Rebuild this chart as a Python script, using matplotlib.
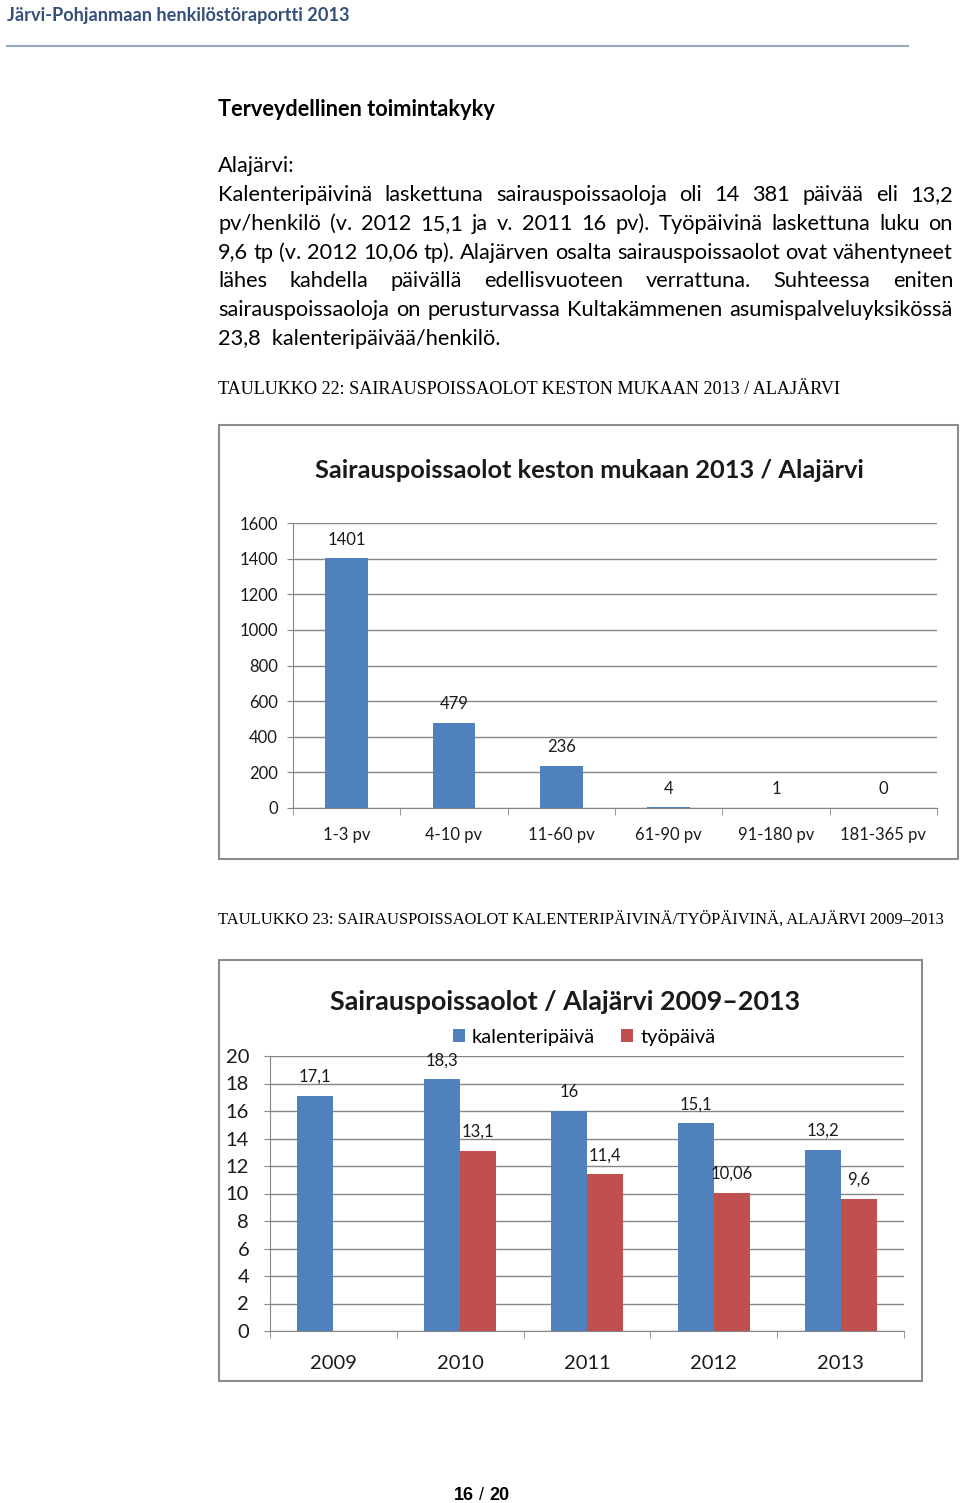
import matplotlib
matplotlib.use('Agg')
import matplotlib.pyplot as plt
from matplotlib.patches import Rectangle
import numpy as np

# chart data
durations = ['1-3 pv', '4-10 pv', '11-60 pv', '61-90 pv', '91-180 pv', '181-365 pv']
duration_counts = [1401, 479, 236, 4, 1, 0]

years = ['2009', '2010', '2011', '2012', '2013']
calendar_days = [17.1, 18.3, 16.0, 15.1, 13.2]
work_days = [np.nan, 13.1, 11.4, 10.06, 9.6]

# page text
header = 'Järvi-Pohjanmaan henkilöstöraportti 2013'
heading = 'Terveydellinen toimintakyky'
body_lines = [
    ('Alajärvi:', False),
    ('Kalenteripäivinä laskettuna sairauspoissaoloja oli 14 381 päivää eli 13,2', True),
    ('pv/henkilö (v. 2012 15,1 ja v. 2011 16 pv). Työpäivinä laskettuna luku on', True),
    ('9,6 tp (v. 2012 10,06 tp). Alajärven osalta sairauspoissaolot ovat vähentyneet', True),
    ('lähes kahdella päivällä edellisvuoteen verrattuna. Suhteessa eniten', True),
    ('sairauspoissaoloja on perusturvassa Kultakämmenen asumispalveluyksikössä', True),
    ('23,8  kalenteripäivää/henkilö.', False),
]
caption1 = 'TAULUKKO 22: SAIRAUSPOISSAOLOT KESTON MUKAAN 2013 / ALAJÄRVI'
caption2 = 'TAULUKKO 23: SAIRAUSPOISSAOLOT KALENTERIPÄIVINÄ/TYÖPÄIVINÄ, ALAJÄRVI 2009\u20132013'
title1 = 'Sairauspoissaolot keston mukaan 2013 / Alajärvi'
title2 = 'Sairauspoissaolot / Alajärvi 2009\u20132013'

BLUE = '#4f81bd'
RED = '#c0504d'
GRID = '#868686'
TXT = '#1a1a1a'
SANS = 'Lato'
SERIF = 'Liberation Serif'

W, H = 960, 1503
fig = plt.figure(figsize=(W / 100, H / 100), dpi=100)
bg = fig.add_axes([0, 0, 1, 1])
bg.set_xlim(0, W)
bg.set_ylim(H, 0)
bg.axis('off')
renderer = fig.canvas.get_renderer()


def px_axes(left, top, right, bottom):
    return fig.add_axes([left / W, 1 - bottom / H, (right - left) / W, (bottom - top) / H])


def width_of(t):
    return t.get_window_extent(renderer).width


def fit(t, target):
    t.set_fontsize(t.get_fontsize() * target / width_of(t))
    return t


def fmt(v):
    return f'{v:g}'.replace('.', ',')


# header
fit(bg.text(7, 15, header, fontsize=13, weight='bold', color='#34507a',
            family=SANS, va='center'), 342)
bg.plot([7, 908], [46, 46], color='#95a8bf', lw=1.5)

fit(bg.text(218, 109, heading, fontsize=15, weight='bold', color='black',
            family=SANS, va='center'), 278)

# body text, justified between 218 and 953
probe = fit(bg.text(0, 0, body_lines[-1][0], fontsize=15, family=SANS), 283)
body_size = probe.get_fontsize()
probe.remove()
left, right = 218, 953
base = 172.5
for i, (line, justify) in enumerate(body_lines):
    y = base + i * 28.67
    if not justify:
        bg.text(left, y, line, fontsize=body_size, family=SANS, va='baseline', color='black')
        continue
    words = line.split(' ')
    texts = [bg.text(0, y, w, fontsize=body_size, family=SANS, va='baseline', color='black')
             for w in words]
    widths = [width_of(t) for t in texts]
    gap = (right - left - sum(widths)) / (len(words) - 1)
    x = left
    for t, w in zip(texts, widths):
        t.set_x(x)
        x += w + gap

# captions
fit(bg.text(218, 390, caption1, fontsize=12, family=SERIF, va='center', color='black'), 619)
fit(bg.text(218, 919, caption2, fontsize=12, family=SERIF, va='center', color='black'), 725)

# chart 1 frame and title
bg.add_patch(Rectangle((219, 425), 739, 434, fill=False, ec='#8c8c8c', lw=1.5))
fit(bg.text(589, 470, title1, fontsize=18, weight='bold', family=SANS,
            ha='center', va='center', color=TXT), 550)

ax1 = px_axes(293, 523, 937, 808)
x1 = np.arange(len(durations))
ax1.bar(x1, duration_counts, width=0.4, color=BLUE, zorder=3)
ax1.set_xlim(-0.5, len(durations) - 0.5)
ax1.set_ylim(0, 1600)
ax1.set_yticks(range(0, 1601, 200))
ax1.yaxis.grid(True, color=GRID, lw=1)
ax1.set_axisbelow(True)
for s in ['top', 'right']:
    ax1.spines[s].set_visible(False)
for s in ['left', 'bottom']:
    ax1.spines[s].set_color(GRID)
ax1.set_xticks(x1)
ax1.set_xticklabels(durations, family=SANS, fontsize=12, color=TXT)
ax1.set_xticks(np.arange(-0.5, len(durations), 1), minor=True)
ax1.tick_params(axis='x', which='major', length=0, pad=13.5)
ax1.tick_params(axis='x', which='minor', length=5, color=GRID)
ax1.tick_params(axis='y', length=4, color=GRID, pad=7, labelsize=12, labelcolor=TXT)
for lab in ax1.get_yticklabels():
    lab.set_family(SANS)
for xi, v in zip(x1, duration_counts):
    ax1.annotate(str(v), (xi, v), xytext=(0, 13.5), textcoords='offset points',
                 ha='center', va='center', fontsize=12, family=SANS, color=TXT)

# chart 2 frame and title
bg.add_patch(Rectangle((219, 960), 703, 421, fill=False, ec='#8c8c8c', lw=1.5))
fit(bg.text(565, 1002, title2, fontsize=19, weight='bold', family=SANS,
            ha='center', va='center', color=TXT), 471)

ax2 = px_axes(270, 1056, 904, 1331)
x2 = np.arange(len(years))
bw = 0.284
cal = np.array(calendar_days)
work = np.array(work_days)
ok = np.isfinite(work)
b1 = ax2.bar(x2 - bw / 2, cal, bw, color=BLUE, zorder=3, label='kalenteripäivä')
b2 = ax2.bar(x2[ok] + bw / 2, work[ok], bw, color=RED, zorder=3, label='työpäivä')
ax2.set_xlim(-0.5, len(years) - 0.5)
ax2.set_ylim(0, 20)
ax2.set_yticks(range(0, 21, 2))
ax2.yaxis.grid(True, color=GRID, lw=1)
ax2.set_axisbelow(True)
for s in ['top', 'right']:
    ax2.spines[s].set_visible(False)
for s in ['left', 'bottom']:
    ax2.spines[s].set_color(GRID)
ax2.set_xticks(x2)
ax2.set_xticklabels(years, family=SANS, fontsize=14.5, color=TXT)
ax2.set_xticks(np.arange(-0.5, len(years), 1), minor=True)
ax2.tick_params(axis='x', which='major', length=0, pad=17)
ax2.tick_params(axis='x', which='minor', length=5, color=GRID)
ax2.tick_params(axis='y', length=4, color=GRID, pad=11, labelsize=14.5, labelcolor=TXT)
for lab in ax2.get_yticklabels():
    lab.set_family(SANS)
for xi, v in zip(x2 - bw / 2, cal):
    ax2.annotate(fmt(v), (xi, v), xytext=(0, 13.7), textcoords='offset points',
                 ha='center', va='center', fontsize=12, family=SANS, color=TXT)
for xi, v in zip(x2[ok] + bw / 2, work[ok]):
    ax2.annotate(fmt(v), (xi, v), xytext=(0, 13.7), textcoords='offset points',
                 ha='center', va='center', fontsize=12, family=SANS, color=TXT)
ax2.legend(handles=[b1, b2], loc='center', bbox_to_anchor=(584, 1037),
           bbox_transform=bg.transData, ncol=2, frameon=False,
           prop={'family': SANS, 'size': 14.5}, handlelength=0.6, handleheight=0.6,
           handletextpad=0.35, columnspacing=1.3, borderpad=0)

# page number
p1 = bg.text(454, 1496, '16', fontsize=13, weight='bold', family='Liberation Sans', va='center')
x = 454 + width_of(p1)
p2 = bg.text(x, 1496, ' / ', fontsize=13, family='Liberation Sans', va='center')
x += width_of(p2)
bg.text(x, 1496, '20', fontsize=13, weight='bold', family='Liberation Sans', va='center')

fig.savefig('out.png', dpi=100)
